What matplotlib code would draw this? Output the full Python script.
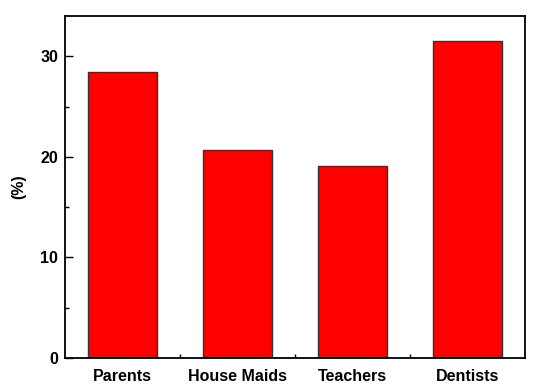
import matplotlib.pyplot as plt
from matplotlib.ticker import MultipleLocator, FixedLocator

categories = ["Parents", "House Maids", "Teachers", "Dentists"]
values = [28.4, 20.7, 19.05, 31.5]

plt.rcParams["font.family"] = ["Liberation Sans", "DejaVu Sans"]
plt.rcParams["font.weight"] = "bold"

fig = plt.figure(figsize=(5.5, 3.92), dpi=100)
ax = fig.add_axes([65 / 550, 1 - 358 / 392, 460 / 550, 342 / 392])

pos = list(range(1, len(categories) + 1))
ax.bar(pos, values, width=0.6, color="#ff0000", edgecolor="#333333", linewidth=1)

ax.set_xlim(0.5, 4.5)
ax.set_ylim(0, 34)
ax.set_xticks(pos)
ax.set_xticklabels(categories, fontsize=11.5, fontweight="bold")
ax.tick_params(axis="x", which="major", length=0, pad=8)
ax.xaxis.set_minor_locator(FixedLocator([1.5, 2.5, 3.5]))
ax.tick_params(axis="x", which="minor", direction="in", length=3, width=1)

ax.yaxis.set_major_locator(MultipleLocator(10))
ax.yaxis.set_minor_locator(MultipleLocator(5))
ax.tick_params(axis="y", which="major", direction="in", length=6, width=1, labelsize=11.5, pad=5)
ax.tick_params(axis="y", which="minor", direction="in", length=3, width=1)
for lab in ax.get_yticklabels():
    lab.set_fontweight("bold")

for s in ax.spines.values():
    s.set_linewidth(1.3)

ax.set_ylabel("(%)", fontsize=11.5, fontweight="bold", labelpad=10)

fig.savefig("out.png", dpi=100)
